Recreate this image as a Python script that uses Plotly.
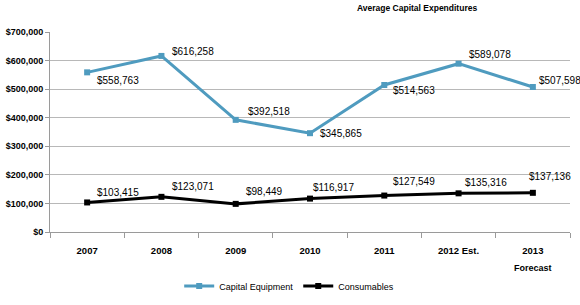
import plotly.graph_objects as go

years = ["2007", "2008", "2009", "2010", "2011", "2012 Est.", "2013"]
capital_equipment = [558763, 616258, 392518, 345865, 514563, 589078, 507598]
consumables = [103415, 123071, 98449, 116917, 127549, 135316, 137136]
y_ticks = [0, 100000, 200000, 300000, 400000, 500000, 600000, 700000]

FONT = "Liberation Sans, Arial, sans-serif"
BLUE = "#4F9BBF"

# label offsets (dx px, dy px; positive dy = up)
cap_off = [(8, -8), (9, 4), (10, 8), (8, 0), (7, -6), (8, 9), (4, 6)]
con_off = [(8, 10), (9, 10), (8, 12), (1, 11), (7, 14), (4, 11), (-6, 16)]

fig = go.Figure()
fig.add_trace(go.Scatter(x=years, y=capital_equipment, mode="lines+markers",
                         name="Capital Equipment",
                         line=dict(color=BLUE, width=3),
                         marker=dict(symbol="square", size=6, color=BLUE)))
fig.add_trace(go.Scatter(x=years, y=consumables, mode="lines+markers",
                         name="Consumables",
                         line=dict(color="black", width=3),
                         marker=dict(symbol="square", size=6, color="black")))

anns = []
for series, offs in ((capital_equipment, cap_off), (consumables, con_off)):
    for i, (v, (dx, dy)) in enumerate(zip(series, offs)):
        anns.append(dict(x=i, y=v, xref="x", yref="y", text=f"${v:,}", showarrow=False,
                         xanchor="left", yanchor="middle", xshift=dx, yshift=dy,
                         font=dict(family=FONT, size=10, color="black")))
anns.append(dict(xref="paper", yref="paper", x=0.705, y=1.0, yshift=24,
                 text="<b>Average Capital Expenditures</b>", showarrow=False,
                 xanchor="center", yanchor="middle",
                 font=dict(family=FONT, size=8.5, color="black")))
anns.append(dict(x=len(years) - 1, y=0, xref="x", yref="y", text="<b>Forecast</b>",
                 showarrow=False, xanchor="center", yanchor="middle", yshift=-36,
                 font=dict(family=FONT, size=9, color="black")))

fig.update_layout(
    width=580, height=305,
    margin=dict(l=50, r=10, t=32, b=73, autoexpand=False),
    paper_bgcolor="white", plot_bgcolor="white",
    font=dict(family=FONT, size=9, color="black"),
    showlegend=True,
    legend=dict(orientation="h", x=0.46, xanchor="center",
                yref="container", y=0.062, yanchor="middle",
                font=dict(family=FONT, size=9), itemwidth=30, tracegroupgap=0),
    annotations=anns,
)
fig.update_xaxes(type="category", showgrid=False, showline=True, linecolor="#9a9a9a",
                 linewidth=1, ticks="outside", tickson="boundaries", ticklen=5,
                 tickcolor="#9a9a9a", ticklabelstandoff=10, automargin=False,
                 tickfont=dict(family=FONT, size=9.5, color="black", weight="bold"),
                 range=[-0.5, 6.5])
fig.update_yaxes(range=[0, 700000], tickvals=y_ticks,
                 ticktext=[f"${t:,}" for t in y_ticks], automargin=False,
                 showgrid=True, gridcolor="#b8b8b8", gridwidth=1,
                 showline=True, linecolor="#9a9a9a", ticks="outside", ticklen=4,
                 tickcolor="#9a9a9a", zeroline=False,
                 tickfont=dict(family=FONT, size=9, color="black", weight="bold"))

fig.write_html("out.html")
